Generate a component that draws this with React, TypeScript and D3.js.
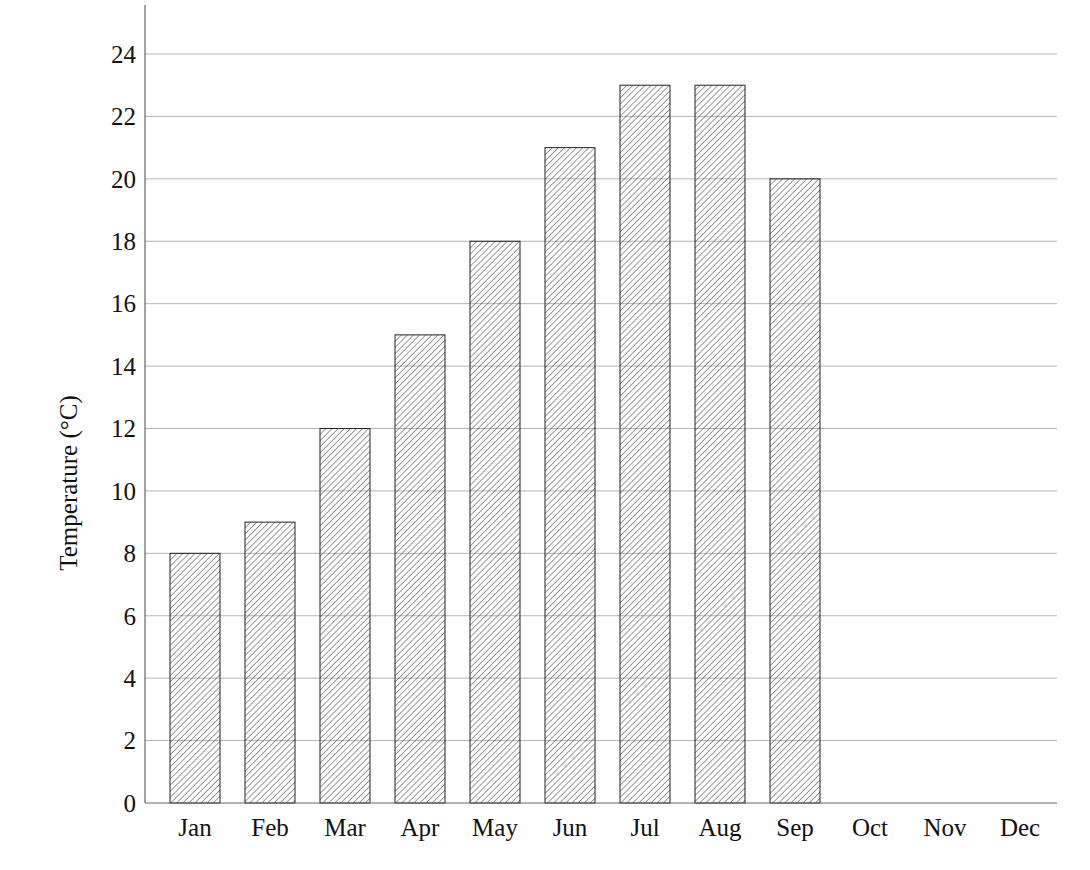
import { scaleBand, scaleLinear, range } from "d3";

const months = ["Jan", "Feb", "Mar", "Apr", "May", "Jun", "Jul", "Aug", "Sep", "Oct", "Nov", "Dec"];
const temps = [8, 9, 12, 15, 18, 21, 23, 23, 20, 0, 0, 0];
const yTicks = range(0, 25, 2);

const width = 1090;
const height = 870;
const left = 145;
const right = 1057;
const top = 5;
const bottom = 803;
const font = "'Liberation Serif', 'Times New Roman', serif";

const App = () => {
  const x = scaleBand()
    .domain(months)
    .range([157.5, 1057.5])
    .paddingInner(1 / 3)
    .paddingOuter(1 / 6);

  const y = scaleLinear()
    .domain([0, 24])
    .range([bottom, 54]);

  return (
    <svg
      width={width}
      height={height}
      style={{ position: "absolute", left: 0, top: 0, background: "#fff" }}
    >
      <defs>
        <pattern id="hatch" width={4.3} height={4.3} patternUnits="userSpaceOnUse" patternTransform="rotate(45)">
          <line x1={0} y1={0} x2={0} y2={4.3} stroke="#222" strokeWidth={0.9} />
        </pattern>
      </defs>

      {/* gridlines */}
      {yTicks.filter((t) => t > 0).map((t) => (
        <line key={t} x1={left} x2={right} y1={y(t)} y2={y(t)} stroke="#b5b5b5" strokeWidth={1} />
      ))}

      {/* bars */}
      {months.map((m, i) =>
        temps[i] > 0 ? (
          <rect
            key={m}
            x={x(m)!}
            y={y(temps[i])}
            width={x.bandwidth()}
            height={bottom - y(temps[i])}
            fill="url(#hatch)"
            stroke="#222"
            strokeWidth={1}
          />
        ) : null
      )}

      {/* axes */}
      <line x1={left} x2={left} y1={top} y2={bottom} stroke="#666" strokeWidth={1.2} />
      <line x1={left} x2={right} y1={bottom} y2={bottom} stroke="#666" strokeWidth={1.2} />

      {yTicks.map((t) => (
        <text
          key={t}
          x={left - 9}
          y={y(t)}
          dy="0.35em"
          textAnchor="end"
          fontFamily={font}
          fontSize={25}
          fill="#111"
        >
          {t}
        </text>
      ))}

      {months.map((m) => (
        <text
          key={m}
          x={x(m)! + x.bandwidth() / 2}
          y={836}
          textAnchor="middle"
          fontFamily={font}
          fontSize={25}
          fill="#111"
        >
          {m}
        </text>
      ))}

      <text
        transform={`translate(77, 483) rotate(-90)`}
        textAnchor="middle"
        fontFamily={font}
        fontSize={25}
        fill="#111"
      >
        Temperature (°C)
      </text>
    </svg>
  );
};

export default App;
